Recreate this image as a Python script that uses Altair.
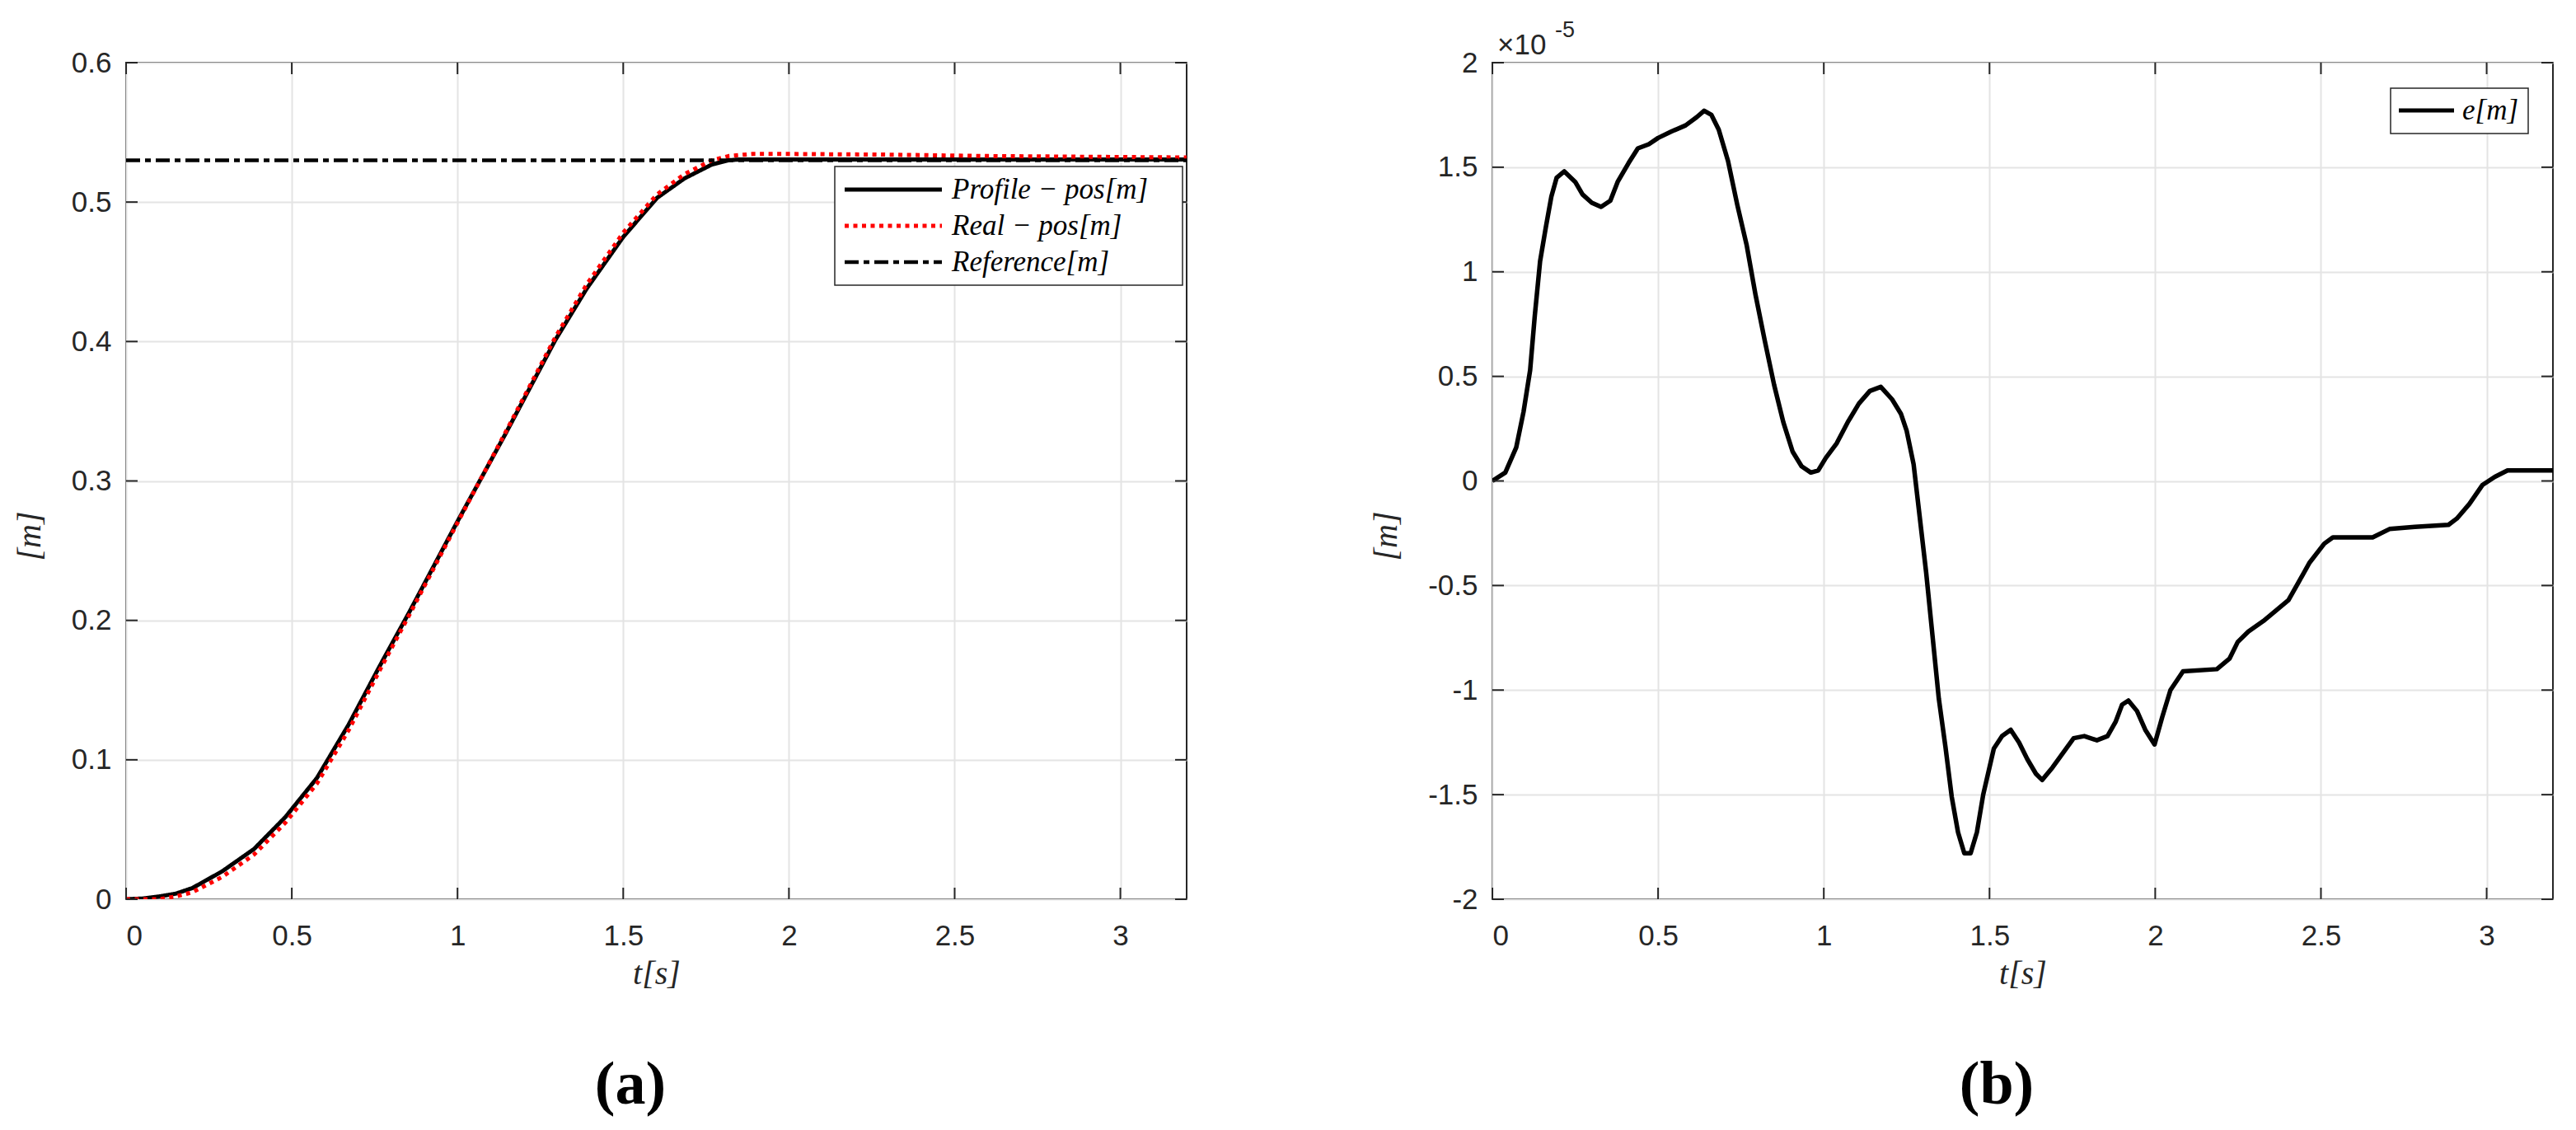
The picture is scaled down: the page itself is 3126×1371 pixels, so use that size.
import altair as alt
import pandas as pd

# ---------------- data ----------------
t_profile = [0, 0.05, 0.1, 0.15, 0.2, 0.29, 0.386, 0.481, 0.576, 0.671, 0.767, 0.857,
             1.0, 1.143, 1.295, 1.39, 1.5, 1.602, 1.685, 1.768, 1.818, 1.85, 3.2]
pos_profile = [0, 0.0005, 0.002, 0.004, 0.008, 0.020, 0.036, 0.059, 0.087, 0.125, 0.168, 0.207,
               0.271, 0.333, 0.401, 0.438, 0.475, 0.503, 0.517, 0.527, 0.5300, 0.5305, 0.5305]

t_real = [0, 0.1, 0.15, 0.2, 0.29, 0.386, 0.481, 0.576, 0.671, 0.767, 0.857,
          1.0, 1.143, 1.295, 1.39, 1.5, 1.602, 1.685, 1.768, 1.818, 1.89, 2.0, 2.3, 2.6, 3.2]
pos_real = [0, 0.0, 0.002, 0.005, 0.016, 0.032, 0.055, 0.083, 0.121, 0.165, 0.205,
            0.270, 0.334, 0.403, 0.441, 0.478, 0.5055, 0.520, 0.530, 0.533, 0.5345, 0.5345, 0.534, 0.533, 0.532]

t_reference = [0, 3.2]
pos_reference = [0.53, 0.53]

t_err = [0, 0.039, 0.072, 0.094, 0.114, 0.128, 0.144, 0.161, 0.178, 0.194, 0.217, 0.25, 0.272,
         0.3, 0.328, 0.356, 0.378, 0.411, 0.439, 0.472, 0.5, 0.539, 0.583, 0.617, 0.639, 0.661,
         0.683, 0.711, 0.739, 0.767, 0.794, 0.822, 0.85, 0.878, 0.906, 0.933, 0.961, 0.983,
         1.006, 1.039, 1.072, 1.106, 1.139, 1.172, 1.206, 1.233, 1.25, 1.271, 1.29, 1.309,
         1.328, 1.347, 1.367, 1.386, 1.405, 1.424, 1.443, 1.462, 1.481, 1.513, 1.538, 1.564,
         1.589, 1.614, 1.64, 1.659, 1.69, 1.722, 1.754, 1.786, 1.824, 1.856, 1.881, 1.9, 1.919,
         1.945, 1.97, 1.998, 2.021, 2.046, 2.084, 2.186, 2.224, 2.249, 2.281, 2.326, 2.364,
         2.402, 2.434, 2.466, 2.51, 2.536, 2.656, 2.707, 2.783, 2.885, 2.91, 2.948, 2.987,
         3.025, 3.063, 3.2]
err_e5 = [0, 0.04, 0.16, 0.33, 0.53, 0.79, 1.05, 1.21, 1.36, 1.45, 1.48, 1.43, 1.37,
          1.33, 1.31, 1.34, 1.43, 1.52, 1.59, 1.61, 1.64, 1.67, 1.70, 1.74, 1.77, 1.75,
          1.68, 1.53, 1.32, 1.13, 0.89, 0.67, 0.46, 0.28, 0.14, 0.07, 0.04, 0.05,
          0.11, 0.18, 0.28, 0.37, 0.43, 0.45, 0.39, 0.32, 0.24, 0.08, -0.18, -0.44,
          -0.74, -1.04, -1.27, -1.51, -1.68, -1.78, -1.78, -1.68, -1.50, -1.28, -1.22, -1.19,
          -1.25, -1.33, -1.40, -1.43, -1.37, -1.30, -1.23, -1.22, -1.24, -1.22, -1.15, -1.07, -1.05,
          -1.10, -1.19, -1.26, -1.13, -1.00, -0.91, -0.90, -0.85, -0.77, -0.72, -0.67, -0.62,
          -0.57, -0.48, -0.39, -0.30, -0.27, -0.27, -0.23, -0.22, -0.21, -0.18, -0.11, -0.02,
          0.02, 0.05, 0.05]

x_ticks = [0, 0.5, 1, 1.5, 2, 2.5, 3]
y_ticks_a = [0, 0.1, 0.2, 0.3, 0.4, 0.5, 0.6]
y_ticks_b = [-2, -1.5, -1, -0.5, 0, 0.5, 1, 1.5, 2]

series_a = ["Profile \u2212 pos[m]", "Real \u2212 pos[m]", "Reference[m]"]
series_b = ["e[m]"]

# ---------------- style ----------------
W, H = 1287, 1015
AX = "#262626"
GRID = "#e4e4e4"
TICK_LEN = 14
LBL_FONT = "Liberation Sans"
TEX_FONT = "Liberation Serif"
colors_a = ["black", "red", "black"]
dashes_a = [[1, 0], [5, 5.5], [17, 6, 7, 6]]
widths_a = [5, 5, 4.5]

xs = alt.Scale(domain=[0, 3.2], nice=False, zero=False)


def x_axis():
    return alt.Axis(values=x_ticks, labelExpr="toString(datum.value)", title="t[s]",
                    grid=True, gridColor=GRID, gridWidth=2, ticks=False, domain=False,
                    labelFont=LBL_FONT, labelFontSize=35, labelColor=AX, labelPadding=27,
                    titleFont=TEX_FONT, titleFontStyle="italic", titleFontWeight="normal",
                    titleFontSize=40, titleColor=AX, titlePadding=8)


def y_axis(vals):
    return alt.Axis(values=vals, labelExpr="toString(datum.value)", title="[m]",
                    grid=True, gridColor=GRID, gridWidth=2, ticks=False, domain=False,
                    labelFont=LBL_FONT, labelFontSize=35, labelColor=AX, labelPadding=18,
                    titleFont=TEX_FONT, titleFontStyle="italic", titleFontWeight="normal",
                    titleFontSize=40, titleColor=AX, titlePadding=30, titleY=574)


def inward_ticks(ys, yvals, yfield):
    tx = pd.DataFrame({"t": x_ticks})
    ty = pd.DataFrame({yfield: yvals})
    X = alt.X("t:Q", scale=xs, axis=x_axis())
    Y = alt.Y(f"{yfield}:Q", scale=ys, axis=y_axis(yvals))
    rx = alt.Chart(tx).mark_rule(color=AX, strokeWidth=2)
    ry = alt.Chart(ty).mark_rule(color=AX, strokeWidth=2)
    return [
        rx.encode(x=X, y=alt.value(H), y2=alt.value(H - TICK_LEN)),
        rx.encode(x=X, y=alt.value(0), y2=alt.value(TICK_LEN)),
        ry.encode(y=Y, x=alt.value(0), x2=alt.value(TICK_LEN)),
        ry.encode(y=Y, x=alt.value(W), x2=alt.value(W - TICK_LEN)),
    ]


def legend(labels, colors, dashes, widths, box, row0, row_gap, line_x, text_x, font_size):
    one = pd.DataFrame({"k": [0]})
    layers = [alt.Chart(one).mark_rect(fill="white", stroke=AX, strokeWidth=1.5).encode(
        x=alt.value(box[0]), x2=alt.value(box[1]), y=alt.value(box[2]), y2=alt.value(box[3]))]
    for i, lab in enumerate(labels):
        yy = row0 + row_gap * i
        d = pd.DataFrame({"label": [lab]})
        layers.append(alt.Chart(d).mark_rule(color=colors[i], strokeDash=dashes[i],
                                             strokeWidth=widths[i], strokeCap="butt").encode(
            x=alt.value(line_x[0]), x2=alt.value(line_x[1]), y=alt.value(yy)))
        layers.append(alt.Chart(d).mark_text(font=TEX_FONT, fontStyle="italic", fontSize=font_size,
                                             align="left", baseline="middle", color="black").encode(
            x=alt.value(text_x), y=alt.value(yy), text="label:N"))
    return layers


def caption(txt):
    d = pd.DataFrame({"c": [txt]})
    return alt.Chart(d).mark_text(font=TEX_FONT, fontWeight="bold", fontSize=74,
                                  align="center", baseline="middle", color="black").encode(
        x=alt.value(612), y=alt.value(1241), text="c:N")


# ---------------- panel (a) ----------------
rows = []
for s, ts, vs in [(series_a[0], t_profile, pos_profile),
                  (series_a[1], t_real, pos_real),
                  (series_a[2], t_reference, pos_reference)]:
    for t, v in zip(ts, vs):
        rows.append({"series": s, "t": t, "v": v})
df_a = pd.DataFrame(rows)

ys_a = alt.Scale(domain=[0, 0.6], nice=False, zero=False)

lines_a = []
for i, s in enumerate(series_a):
    lines_a.append(alt.Chart(df_a[df_a.series == s]).mark_line(
        color=colors_a[i], strokeDash=dashes_a[i], strokeWidth=widths_a[i], strokeCap="butt",
        strokeJoin="round", clip=True).encode(
        x=alt.X("t:Q", scale=xs, axis=x_axis()),
        y=alt.Y("v:Q", scale=ys_a, axis=y_axis(y_ticks_a)),
        order="t:Q"))

panel_a = alt.layer(
    *lines_a,
    *inward_ticks(ys_a, y_ticks_a, "v"),
    *legend(series_a, colors_a, dashes_a, widths_a, box=(860, 1282, 126, 270), row0=154,
            row_gap=44, line_x=(872, 990), text_x=1002, font_size=35),
    caption("(a)"),
).properties(width=W, height=H)

# ---------------- panel (b) ----------------
df_b = pd.DataFrame({"t": t_err, "v": err_e5})
ys_b = alt.Scale(domain=[-2, 2], nice=False, zero=False)

line_b = alt.Chart(df_b).mark_line(color="black", strokeWidth=5.5, strokeJoin="round", clip=True).encode(
    x=alt.X("t:Q", scale=xs, axis=x_axis()),
    y=alt.Y("v:Q", scale=ys_b, axis=y_axis(y_ticks_b)),
    order="t:Q")

mult = pd.DataFrame({"a": ["\u00d710"], "b": ["-5"]})
exp_layers = [
    alt.Chart(mult).mark_text(font=LBL_FONT, fontSize=35, align="left", baseline="alphabetic",
                              color=AX).encode(x=alt.value(6), y=alt.value(-10), text="a:N"),
    alt.Chart(mult).mark_text(font=LBL_FONT, fontSize=27, align="left", baseline="alphabetic",
                              color=AX).encode(x=alt.value(76), y=alt.value(-31), text="b:N"),
]

panel_b = alt.layer(
    line_b,
    *inward_ticks(ys_b, y_ticks_b, "v"),
    *legend(series_b, ["black"], [[1, 0]], [5], box=(1090, 1257, 31, 86), row0=58,
            row_gap=44, line_x=(1100, 1167), text_x=1177, font_size=35),
    *exp_layers,
    caption("(b)"),
).properties(width=W, height=H)

chart = alt.hconcat(panel_a, panel_b, spacing=371, bounds="flush").properties(
    padding={"left": 7, "top": 14, "right": 5, "bottom": 5}
).configure_view(stroke=AX, strokeWidth=2)

chart.save("out.html", embed_options={"renderer": "svg", "actions": False})
